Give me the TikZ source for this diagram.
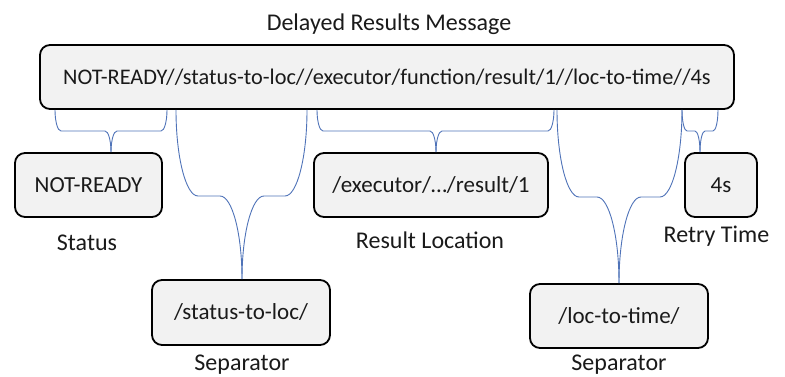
\documentclass[tikz,border=0pt]{standalone}
\usepackage{fontspec}
\setmainfont{Carlito}
\usetikzlibrary{calc}

\definecolor{boxfill}{HTML}{F2F2F2}
\definecolor{braceblue}{HTML}{4F73B8}
\definecolor{ink}{HTML}{1A1A1A}

\tikzset{
  field/.style={draw=black, line width=1.8pt, fill=boxfill, rounded corners=10pt,
    inner sep=0pt, font=\fontsize{23}{27}\selectfont, text=ink},
  caption/.style={inner sep=0pt, anchor=base, font=\fontsize{24}{28}\selectfont, text=ink},
  brace/.style={draw=braceblue, line width=0.9pt},
}

% Curly brace hanging under the message box.
% #1 left x, #2 tip x, #3 right x, #4 bar y, #5 curve width, #6 target node
\newcommand\hangbrace[6]{%
  \draw[brace]
    let \p1=(#1,0 |- msg.south), \p2=(#2,0 |- #6.north) in
    (#1,0 |- msg.south)
      .. controls ($(\p1)!0.55!(#1,#4)$) and (#1+0.45*#5,#4) .. (#1+#5,#4)
      -- (#2-#5,#4)
      .. controls (#2-0.45*#5,#4) and ($(\p2)!0.55!(#2,#4)$) .. (#2,0 |- #6.north);
  \draw[brace]
    let \p1=(#3,0 |- msg.south), \p2=(#2,0 |- #6.north) in
    (#3,0 |- msg.south)
      .. controls ($(\p1)!0.55!(#3,#4)$) and (#3-0.45*#5,#4) .. (#3-#5,#4)
      -- (#2+#5,#4)
      .. controls (#2+0.45*#5,#4) and ($(\p2)!0.55!(#2,#4)$) .. (#2,0 |- #6.north);
}

\begin{document}
\begin{tikzpicture}[x=1pt, y=-1pt]
  \useasboundingbox (0,0) rectangle (785,377);

  % title
  \node[caption] (title) at (389,31) {Delayed Results Message};

  % the full message
  \node[field, font=\fontsize{22.3}{26}\selectfont, minimum width=694pt, minimum height=64pt]
    (msg) at (387,77)
    {NOT-READY//status-to-loc//executor/function/result/1//loc-to-time//4s};

  % its parts
  \node[field, minimum width=147pt, minimum height=64pt] (status) at (88.5,185) {NOT-READY};
  \node[field, minimum width=178pt, minimum height=65pt] (sep1) at (241,312.5) {/status-to-loc/};
  \node[field, minimum width=234pt, minimum height=64pt] (loc) at (431,185) {/executor/…/result/1};
  \node[field, minimum width=178pt, minimum height=64pt] (sep2) at (619,316) {/loc-to-time/};
  \node[field, minimum width=72pt, minimum height=64pt] (retry) at (721,185) {4s};

  % captions
  \node[caption] (statuscap) at (87,251) {Status};
  \node[caption] (loccap) at (430,248) {Result Location};
  \node[caption] (retrycap) at (716.5,243) {Retry Time};
  \node[caption] (sep1cap) at (242,370) {Separator};
  \node[caption] (sep2cap) at (619,370) {Separator};

  % braces
  \hangbrace{55}{111}{167}{131}{6}{status}
  \hangbrace{176}{242}{307}{196}{22}{sep1}
  \hangbrace{317}{436}{554}{131}{6}{loc}
  \hangbrace{557}{619}{682}{197}{22}{sep2}
  \hangbrace{682}{700}{718}{131}{5}{retry}
\end{tikzpicture}
\end{document}
